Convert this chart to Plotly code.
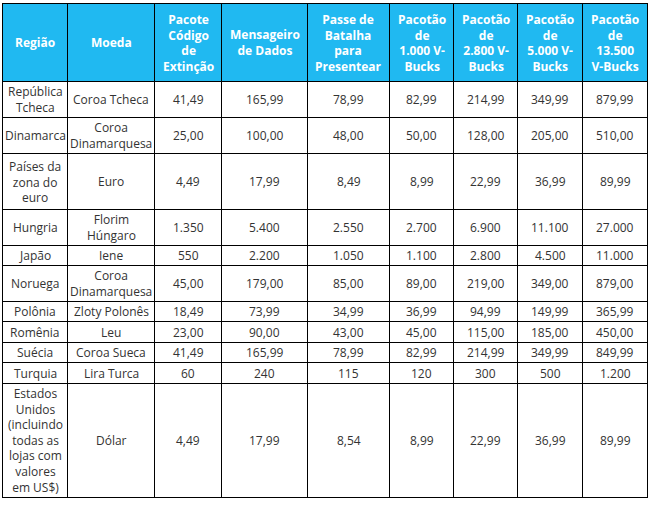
import plotly.graph_objects as go

# ---- data ----
headers = ["Região", "Moeda", "Pacote<br>Código<br>de<br>Extinção", "Mensageiro<br>de Dados",
           "Passe de<br>Batalha<br>para<br>Presentear", "Pacotão<br>de<br>1.000 V-<br>Bucks",
           "Pacotão<br>de<br>2.800 V-<br>Bucks", "Pacotão<br>de<br>5.000 V-<br>Bucks",
           "Pacotão<br>de<br>13.500<br>V-Bucks"]
regions = ["República<br>Tcheca", "Dinamarca", "Países da<br>zona do<br>euro", "Hungria", "Japão",
           "Noruega", "Polônia", "Romênia", "Suécia", "Turquia",
           "Estados<br>Unidos<br>(incluindo<br>todas as<br>lojas com<br>valores<br>em US$)"]
currencies = ["Coroa Tcheca", "Coroa<br>Dinamarquesa", "Euro", "Florim<br>Húngaro", "Iene",
              "Coroa<br>Dinamarquesa", "Zloty Polonês", "Leu", "Coroa Sueca", "Lira Turca", "Dólar"]
pacote_extincao = ["41,49", "25,00", "4,49", "1.350", "550", "45,00", "18,49", "23,00", "41,49", "60", "4,49"]
mensageiro = ["165,99", "100,00", "17,99", "5.400", "2.200", "179,00", "73,99", "90,00", "165,99", "240", "17,99"]
passe_batalha = ["78,99", "48,00", "8,49", "2.550", "1.050", "85,00", "34,99", "43,00", "78,99", "115", "8,54"]
vbucks_1000 = ["82,99", "50,00", "8,99", "2.700", "1.100", "89,00", "36,99", "45,00", "82,99", "120", "8,99"]
vbucks_2800 = ["214,99", "128,00", "22,99", "6.900", "2.800", "219,00", "94,99", "115,00", "214,99", "300", "22,99"]
vbucks_5000 = ["349,99", "205,00", "36,99", "11.100", "4.500", "349,00", "149,99", "185,00", "349,99", "500", "36,99"]
vbucks_13500 = ["879,99", "510,00", "89,99", "27.000", "11.000", "879,00", "365,99", "450,00", "849,99", "1.200", "89,99"]

columns = [regions, currencies, pacote_extincao, mensageiro, passe_batalha,
           vbucks_1000, vbucks_2800, vbucks_5000, vbucks_13500]

# ---- layout (sizes in px) ----
W, H = 653, 505
left, top = 2, 3
col_widths = [65, 87, 67, 86, 82, 64, 64, 65, 65]
header_height = 78
row_heights = [36, 36, 56, 36, 20, 36, 20, 21, 20, 21, 114]
header_color = "#20b9f1"
text_color = "#333333"
font_family = "Open Sans"

x_edges = [left]
for w in col_widths:
    x_edges.append(x_edges[-1] + w)
y_edges = [top, top + header_height]
for h in row_heights:
    y_edges.append(y_edges[-1] + h)

shapes = [dict(type="rect", xref="x", yref="y", x0=x_edges[0], x1=x_edges[-1],
               y0=y_edges[0], y1=y_edges[1], fillcolor=header_color, line=dict(width=0), layer="below")]
for xe in x_edges:
    shapes.append(dict(type="line", xref="x", yref="y", x0=xe + 0.5, x1=xe + 0.5,
                       y0=y_edges[0], y1=y_edges[-1] + 1, line=dict(color="black", width=1)))
for ye in y_edges:
    shapes.append(dict(type="line", xref="x", yref="y", x0=x_edges[0], x1=x_edges[-1] + 1,
                       y0=ye + 0.5, y1=ye + 0.5, line=dict(color="black", width=1)))

annotations = []
for c, head in enumerate(headers):
    xc = (x_edges[c] + x_edges[c + 1]) / 2 + 0.5
    annotations.append(dict(x=xc, y=(y_edges[0] + y_edges[1]) / 2 + 0.5, xref="x", yref="y",
                            text=head, showarrow=False, xanchor="center", yanchor="middle", align="center",
                            font=dict(family=font_family, size=12, color="white", weight="bold")))
    for r, val in enumerate(columns[c]):
        annotations.append(dict(x=xc, y=(y_edges[r + 1] + y_edges[r + 2]) / 2 + 0.5, xref="x", yref="y",
                                text=val, showarrow=False, xanchor="center", yanchor="middle", align="center",
                                font=dict(family=font_family, size=12, color=text_color)))

fig = go.Figure()
fig.update_layout(
    width=W, height=H,
    margin=dict(l=0, r=0, t=0, b=0),
    paper_bgcolor="white", plot_bgcolor="white",
    xaxis=dict(range=[0, W], visible=False, fixedrange=True),
    yaxis=dict(range=[H, 0], visible=False, fixedrange=True),
    shapes=shapes, annotations=annotations, showlegend=False,
)
fig.write_html("out.html", config={"displayModeBar": False},
               post_script="document.body.style.margin='0px';document.body.style.overflow='hidden';")
